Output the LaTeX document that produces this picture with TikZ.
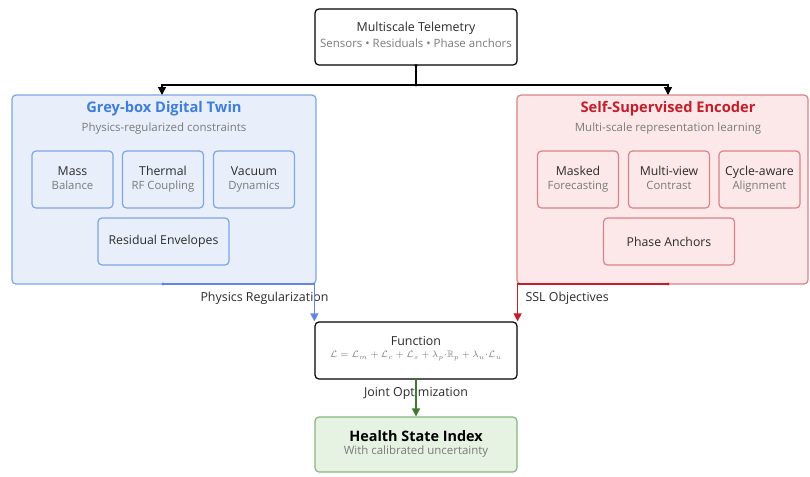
\documentclass[tikz,border=0pt]{standalone}
\usepackage{amsmath}
\usepackage{amssymb}
\usepackage{fontspec}
\setmainfont{Open Sans}
\usetikzlibrary{arrows.meta}

\definecolor{twinfill}{HTML}{E9EFFA}
\definecolor{twinline}{HTML}{7CA6E4}
\definecolor{twintext}{HTML}{3F7FDB}
\definecolor{encfill}{HTML}{FCE8E8}
\definecolor{encline}{HTML}{D98288}
\definecolor{enctext}{HTML}{C41E2A}
\definecolor{hsifill}{HTML}{E6F2E2}
\definecolor{hsiline}{HTML}{86B67E}
\definecolor{hsiarrow}{HTML}{3D7A2C}
\definecolor{subgrey}{HTML}{7A7A7A}
\definecolor{maintext}{HTML}{2B2B2B}

\newcommand{\celltext}[2]{#1\strut\\{\color{subgrey}\fontsize{8.5}{10}\selectfont #2\strut}}

\begin{document}
\begin{tikzpicture}[x=0.75pt,y=-0.75pt,
  box/.style={draw,rounded corners=3pt,line width=0.9pt,inner sep=0pt},
  mainbox/.style={box,minimum width=151.5pt,minimum height=42pt},
  cell/.style={box,minimum width=60.75pt,minimum height=42.75pt,align=center,
    font=\fontsize{9.2}{10.5}\selectfont,text=maintext},
  wide/.style={box,minimum width=98.25pt,minimum height=35.25pt,
    font=\fontsize{9.2}{11}\selectfont,text=maintext},
  sub/.style={font=\fontsize{8.6}{10}\selectfont,text=subgrey},
  lbl/.style={font=\fontsize{9.3}{10}\selectfont,text=maintext,inner sep=1pt},
  dot/.style={circle,fill,inner sep=0pt,minimum size=2.5pt},
  arr/.style={line width=1.1pt,-{Triangle[length=6pt,width=6pt]}}]
\useasboundingbox (0,0) rectangle (810,476);

% top source
\node[mainbox,fill=white] (tele) at (416,37) {};
\node[font=\fontsize{9.3}{10}\selectfont,text=maintext] (teletitle) at (416,28.5) {Multiscale Telemetry};
\node[sub] (telesub) at (416,43.5) {Sensors • Residuals • Phase anchors};

% grey-box twin
\node[box,draw=twinline,fill=twinfill,minimum width=228pt,minimum height=141.75pt] (twin) at (164,189.5) {};
\node[font=\bfseries\fontsize{11}{12}\selectfont,text=twintext] (twintitle) at (164,108.5) {Grey-box Digital Twin};
\node[sub] (twinsub) at (164,128.5) {Physics-regularized constraints};
\node[cell,draw=twinline,fill=twinfill] (mass) at (72.5,179.5) {\celltext{Mass}{Balance}};
\node[cell,draw=twinline,fill=twinfill] (thermal) at (163,179.5) {\celltext{Thermal}{RF Coupling}};
\node[cell,draw=twinline,fill=twinfill] (vacuum) at (254,179.5) {\celltext{Vacuum}{Dynamics}};
\node[wide,draw=twinline,fill=twinfill] (resid) at (163.5,241.5) {Residual Envelopes};

% self-supervised encoder
\node[box,draw=encline,fill=encfill,minimum width=218.25pt,minimum height=141.75pt] (enc) at (662.5,189.5) {};
\node[font=\bfseries\fontsize{11}{12}\selectfont,text=enctext] (enctitle) at (668,108.5) {Self-Supervised Encoder};
\node[sub] (encsub) at (668,128.5) {Multi-scale representation learning};
\node[cell,draw=encline,fill=encfill] (masked) at (578,179.5) {\celltext{Masked}{Forecasting}};
\node[cell,draw=encline,fill=encfill] (multiview) at (669,179.5) {\celltext{Multi-view}{Contrast}};
\node[cell,draw=encline,fill=encfill] (cycle) at (759.5,179.5) {\celltext{Cycle-aware}{Alignment}};
\node[wide,draw=encline,fill=encfill] (phase) at (669,241.5) {Phase Anchors};

% loss function
\node[mainbox,fill=white,minimum height=42.75pt] (func) at (416,350.5) {};
\node[font=\fontsize{9.3}{10}\selectfont,text=maintext] (functitle) at (416,341) {Function};
\node[text=subgrey,font=\fontsize{7}{8}\selectfont] (funcform) at (416,356) {$\mathcal{L}=\mathcal{L}_m+\mathcal{L}_c+\mathcal{L}_s+\lambda_p{\cdot}\mathbb{R}_p+\lambda_u{\cdot}\mathcal{L}_u$};

% health index
\node[box,draw=hsiline,fill=hsifill,minimum width=151.5pt,minimum height=41.25pt] (hsi) at (416,444.5) {};
\node[font=\bfseries\fontsize{10.8}{12}\selectfont,text=black] (hsititle) at (416,436) {Health State Index};
\node[sub] (hsisub) at (416,451.5) {With calibrated uncertainty};

% connectors
\coordinate (split) at (416,85);
\coordinate (twinin) at (162,95);
\coordinate (encin) at (668,95);
\coordinate (twinout) at (163,284);
\coordinate (encout) at (668,284);
\draw[line width=1.1pt] (tele.south) -- (split);
\draw[arr] (split) -| (twinin);
\draw[arr] (split) -| (encin);
\node[dot] at (tele.south) {};
\node[dot] at (split) {};

\node[lbl] (physlbl) at (264.5,298.5) {Physics Regularization};
\node[lbl,anchor=west] (ssllbl) at (524,298.5) {SSL Objectives};
\node[lbl] (jointlbl) at (416,393) {Joint Optimization};

\draw[arr,draw=twinline!80!blue,line width=0.9pt] (twinout) -| (func.north west);
\draw[arr,draw=enctext,line width=0.9pt] (encout) -| (func.north east);
\node[dot,fill=twinline!80!blue] at (twinout) {};
\node[dot,fill=enctext] at (encout) {};
\draw[arr,draw=hsiarrow] (func.south) -- (hsi.north);
\end{tikzpicture}
\end{document}
